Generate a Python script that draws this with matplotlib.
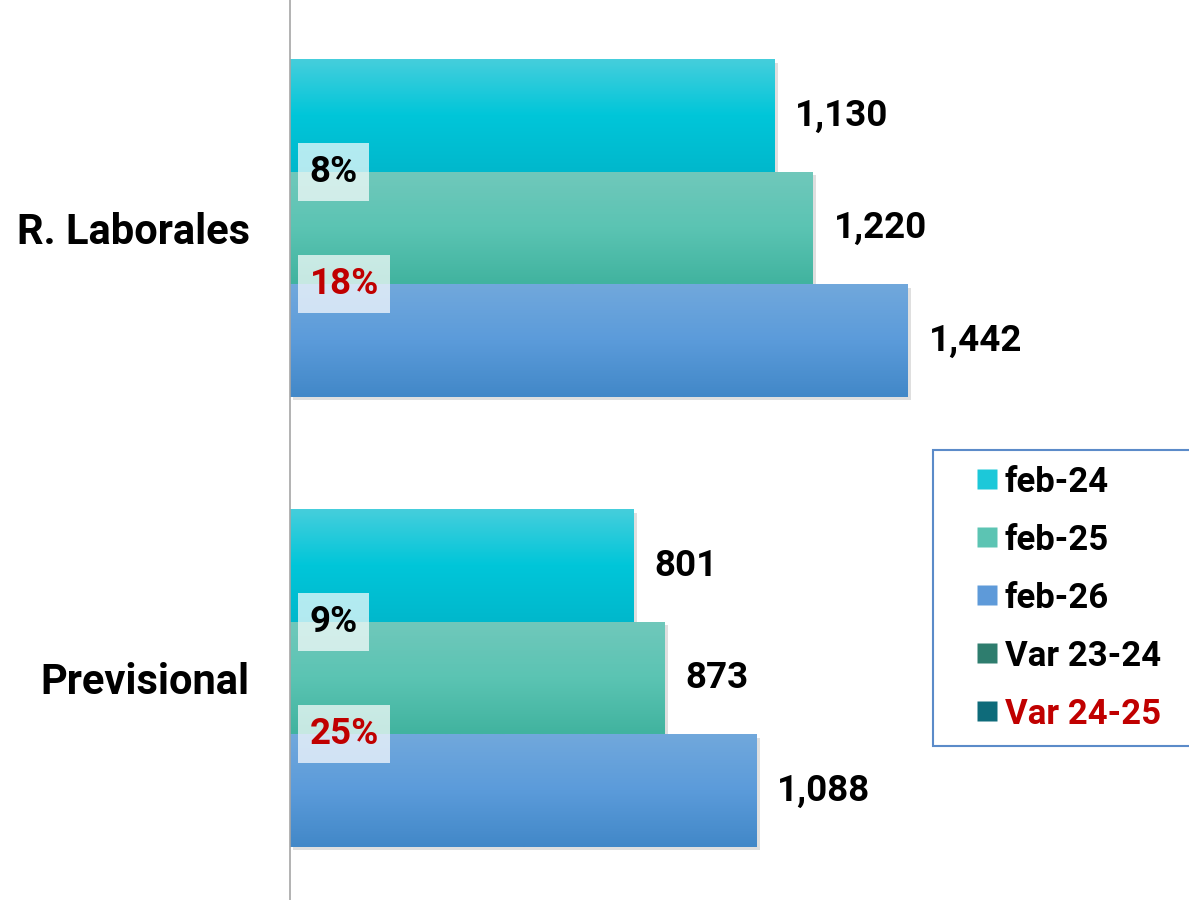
import numpy as np
import matplotlib.pyplot as plt
import matplotlib.patheffects as pe
from matplotlib.colors import LinearSegmentedColormap
from matplotlib.lines import Line2D

plt.rcParams['font.family'] = ['Roboto', 'DejaVu Sans']

categories = ["R. Laborales", "Previsional"]
feb_24 = [1130, 801]
feb_25 = [1220, 873]
feb_26 = [1442, 1088]
var_23_24 = [8, 9]
var_24_25 = [18, 25]

series_labels = ["feb-24", "feb-25", "feb-26", "Var 23-24", "Var 24-25"]
# bottom, middle, top colours of the gradient
grad_colors = [
    ["#00B8CC", "#00C6D9", "#45CEDC"],
    ["#41B39F", "#5BC4B3", "#70C8BB"],
    ["#4288C8", "#5B9BDA", "#71A8DC"],
]
legend_colors = ["#1CC8D9", "#5CC4B3", "#5E9AD9", "#2E7D6E", "#0E6B7A"]

fig = plt.figure(figsize=(11.89, 9), dpi=100)
ax = fig.add_axes([290 / 1189, 0, 1 - 290 / 1189, 1])

y = np.arange(len(categories))[::-1]
offsets = [0.25, 0, -0.25]
bar_h = 0.25
grad = np.linspace(0, 1, 100).reshape(-1, 1)

for vals, off, cols in zip([feb_24, feb_25, feb_26], offsets, grad_colors):
    cmap = LinearSegmentedColormap.from_list("g", cols)
    bars = ax.barh(y + off, vals, height=bar_h, color=cols[1], edgecolor='none', zorder=2)
    for bar, v in zip(bars, vals):
        bar.set_path_effects([pe.SimplePatchShadow(offset=(2.5, -2.5), alpha=0.22, shadow_rgbFace='#707070'),
                              pe.Normal()])
        x0, y0, w, h = bar.get_x(), bar.get_y(), bar.get_width(), bar.get_height()
        im = ax.imshow(grad, extent=[x0, x0 + w, y0, y0 + h], aspect='auto', cmap=cmap,
                       origin='lower', zorder=2.5)
        im.set_clip_path(bar)
        ax.annotate(f"{v:,}", xy=(v, y0 + h / 2), xytext=(15, 0), textcoords='offset points',
                    va='center', ha='left', fontsize=26.5, fontweight='bold', color='black')

# variation labels between the bars
for yc, a, b in zip(y, var_23_24, var_24_25):
    for val, yy, col in [(a, yc + 0.125, 'black'), (b, yc - 0.125, '#C00000')]:
        ax.annotate(f"{val}%", xy=(0, yy), xytext=(14, 0), textcoords='offset points',
                    va='center', ha='left', fontsize=26.5, fontweight='bold', color=col, zorder=5,
                    bbox=dict(boxstyle='square,pad=0.3', fc='white', ec='none', alpha=0.7))

ax.set_xlim(0, 2098)
ax.set_ylim(-0.493, 1.507)
ax.set_xticks([])
ax.set_yticks(y, categories, fontsize=30, fontweight='bold')
ax.tick_params(axis='y', length=0, pad=29)
for s in ['top', 'right', 'bottom']:
    ax.spines[s].set_visible(False)
ax.spines['left'].set_color('#A6A6A6')
ax.spines['left'].set_linewidth(1.2)

handles = [Line2D([], [], ls='none', marker='s', markersize=14, markerfacecolor=c,
                  markeredgecolor='none') for c in legend_colors]
leg = fig.legend(handles, series_labels, loc='upper left', mode='expand',
                 bbox_to_anchor=(933 / 1189, 0, 0.25, 1 - 450 / 900),
                 prop={'weight': 'bold', 'size': 25},
                 frameon=True, fancybox=False, edgecolor='#5B8BC9', framealpha=1,
                 handlelength=2.21, handletextpad=-0.59, labelspacing=0.72, borderpad=0.45,
                 borderaxespad=0)
leg.get_frame().set_linewidth(1.5)
leg.get_texts()[-1].set_color('#C00000')

fig.savefig("out.png", dpi=100)
